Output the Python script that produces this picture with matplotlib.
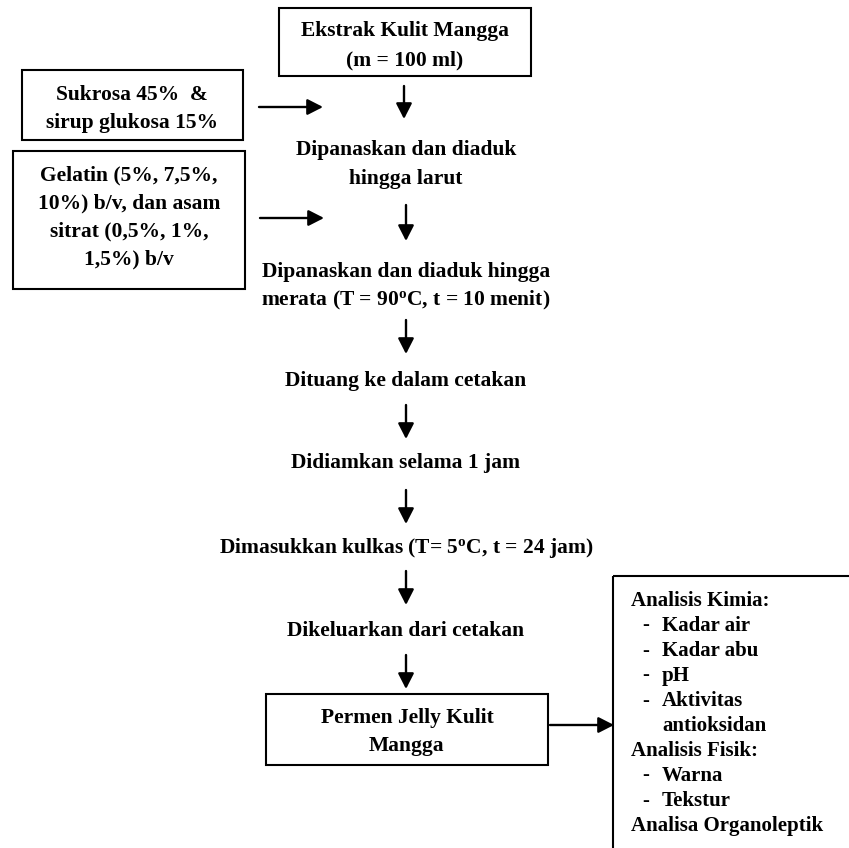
import matplotlib
matplotlib.use("Agg")
import matplotlib.pyplot as plt
from matplotlib.patches import Rectangle

plt.rcParams['font.family'] = ['Liberation Serif', 'DejaVu Serif']
plt.rcParams['font.weight'] = 'bold'
plt.rcParams['mathtext.fontset'] = 'custom'
plt.rcParams['mathtext.rm'] = 'Liberation Serif:bold'
plt.rcParams['mathtext.bf'] = 'Liberation Serif:bold'
plt.rcParams['mathtext.it'] = 'Liberation Serif:bold'

# ---- content ----
start_box = ["Ekstrak Kulit Mangga", "(m = 100 ml)"]
input1_box = ["Sukrosa 45%  &", "sirup glukosa 15%"]
input2_box = ["Gelatin (5%, 7,5%,", "10%) b/v, dan asam", "sitrat (0,5%, 1%,", "1,5%) b/v"]
step1 = ["Dipanaskan dan diaduk", "hingga larut"]
step2 = ["Dipanaskan dan diaduk hingga", r"merata (T = 90$^{\mathrm{o}}$C, t = 10 menit)"]
step3 = ["Dituang ke dalam cetakan"]
step4 = ["Didiamkan selama 1 jam"]
step5 = [r"Dimasukkan kulkas (T= 5$^{\mathrm{o}}$C, t = 24 jam)"]
step6 = ["Dikeluarkan dari cetakan"]
product_box = ["Permen Jelly Kulit", "Mangga"]
analysis_lines = [
    ("head", "Analisis Kimia:"),
    ("item", "Kadar air"),
    ("item", "Kadar abu"),
    ("item", "pH"),
    ("item", "Aktivitas"),
    ("cont", "antioksidan"),
    ("head", "Analisis Fisik:"),
    ("item", "Warna"),
    ("item", "Tekstur"),
    ("head", "Analisa Organoleptik"),
]

W, H = 849, 848
fig = plt.figure(figsize=(W / 100, H / 100), dpi=100)
ax = fig.add_axes([0, 0, 1, 1])
ax.set_xlim(0, W)
ax.set_ylim(H, 0)
ax.axis('off')

FS = 15.5
FS_R = 15
LW = 1.5
ALW = 1.7
CX = 406


def box(x0, y0, x1, y1):
    ax.add_patch(Rectangle((x0, y0), x1 - x0, y1 - y0, fill=False,
                           edgecolor='black', linewidth=LW, clip_on=False))


def lines(cx, ys, texts, ha='center'):
    for y, t in zip(ys, texts):
        ax.text(cx, y, t, ha=ha, va='center', fontsize=FS, fontweight='bold')


def arrow(x0, y0, x1, y1):
    ax.annotate('', xy=(x1, y1), xytext=(x0, y0),
                arrowprops=dict(arrowstyle='-|>,head_length=0.47,head_width=0.24',
                                lw=ALW, color='black',
                                mutation_scale=20, shrinkA=0, shrinkB=0))


# start box
box(279, 8, 531, 76)
lines(405, [31, 60], start_box)
arrow(CX - 2, 86, CX - 2, 119)

# input 1
box(22, 70, 243, 140)
lines(132, [95, 123], input1_box)
arrow(259, 107, 323, 107)

lines(CX, [150, 179], step1)

# input 2
box(13, 151, 245, 289)
lines(129, [175, 203, 231, 259], input2_box)
arrow(260, 218, 324, 218)
arrow(CX, 205, CX, 241)

lines(CX, [272, 300], step2)
arrow(CX, 320, CX, 354)
lines(CX, [381], step3)
arrow(CX, 405, CX, 439)
lines(CX, [463], step4)
arrow(CX, 490, CX, 524)
lines(CX, [548], step5)
arrow(CX, 571, CX, 605)
lines(CX, [631], step6)
arrow(CX, 655, CX, 689)

# product box
box(266, 694, 548, 765)
lines(407, [718, 746], product_box)
arrow(550, 725, 614, 725)

# analysis box (runs off the page on right and bottom)
box(613, 576, 880, 880)
y = 601
for kind, t in analysis_lines:
    if kind == 'head':
        ax.text(631, y, t, ha='left', va='center', fontsize=FS_R, fontweight='bold')
    else:
        if kind == 'item':
            ax.text(642, y, '-', ha='left', va='center', fontsize=FS_R, fontweight='normal')
        ax.text(662, y, t, ha='left', va='center', fontsize=FS_R, fontweight='bold')
    y += 25

fig.savefig('out.png', dpi=100, facecolor='white')
